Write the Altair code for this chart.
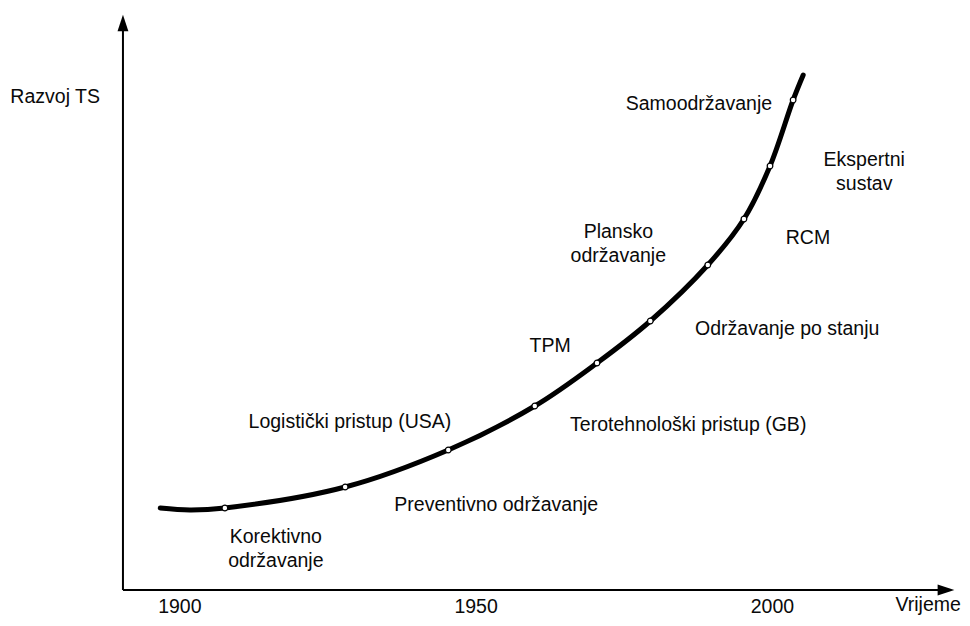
import altair as alt
import pandas as pd

# Curve of technical-system development over time (year, development level)
curve_year = [1896.7, 1901.7, 1907.6, 1927.9, 1945.3, 1959.9, 1970.4, 1979.4, 1989.1, 1995.2, 1999.6, 2003.5, 2005.2]
curve_val = [16.4, 16.0, 16.4, 20.6, 28.0, 36.8, 45.4, 53.8, 65.0, 74.2, 84.8, 98.0, 103.0]
marker_year = [1907.6, 1927.9, 1945.3, 1959.9, 1970.4, 1979.4, 1989.1, 1995.2, 1999.6, 2003.5]
marker_val = [16.4, 20.6, 28.0, 36.8, 45.4, 53.8, 65.0, 74.2, 84.8, 98.0]

# Annotation labels
labels = ["Samoodržavanje", "Ekspertni", "sustav", "Plansko", "održavanje", "RCM", "TPM",
          "Održavanje po stanju", "Logistički pristup (USA)", "Terotehnološki pristup (GB)",
          "Preventivno održavanje", "Korektivno", "održavanje"]
label_year = [1987.6, 2015.5, 2015.5, 1974.0, 1974.0, 2006.0, 1962.5, 2002.5, 1928.7, 1985.8, 1953.4, 1916.2, 1916.2]
label_val = [97.2, 86.0, 81.2, 71.6, 66.8, 70.4, 48.8, 52.2, 33.6, 33.0, 17.0, 10.6, 5.8]

tick_years = [1900, 1950, 2000]
tick_labels = ["1900", "1950", "2000"]

y_title = "Razvoj TS"
x_title = "Vrijeme"

FONT = "Liberation Sans"
FS = 19.5
TC = "#0a0a0a"

xs = alt.Scale(domain=[1871, 2032], nice=False, zero=False)
ys = alt.Scale(domain=[-5.6, 116.4], nice=False, zero=False)

def X(f="year"):
    return alt.X(f"{f}:Q", scale=xs, axis=None)

def Y(f="val"):
    return alt.Y(f"{f}:Q", scale=ys, axis=None)

curve_df = pd.DataFrame({"year": curve_year, "val": curve_val})
marker_df = pd.DataFrame({"year": marker_year, "val": marker_val})
label_df = pd.DataFrame({"label": labels, "year": label_year, "val": label_val})
tick_df = pd.DataFrame({"label": tick_labels, "year": tick_years, "val": [-3.4] * 3})

axis_x0 = 1890.4
axis_df_v = pd.DataFrame({"year": [axis_x0], "val": [0.0], "val2": [112.0]})
axis_df_h = pd.DataFrame({"year": [axis_x0], "year2": [2028.0], "val": [0.0]})

vline = alt.Chart(axis_df_v).mark_rule(color="black", strokeWidth=2).encode(
    x=X(), y=Y(), y2="val2:Q")
hline = alt.Chart(axis_df_h).mark_rule(color="black", strokeWidth=2).encode(
    x=X(), x2="year2:Q", y=Y())

arrow_up = alt.Chart(pd.DataFrame({"year": [axis_x0], "val": [113.4]})).mark_point(
    shape="M0,-1L0.65,1L-0.65,1Z", filled=True, color="black", opacity=1, size=280, strokeWidth=0
).encode(x=X(), y=Y())
arrow_right = alt.Chart(pd.DataFrame({"year": [2029.3], "val": [0.0]})).mark_point(
    shape="M1,0L-1,0.65L-1,-0.65Z", filled=True, color="black", opacity=1, size=280, strokeWidth=0
).encode(x=X(), y=Y())

line = alt.Chart(curve_df).mark_line(
    color="black", strokeWidth=5, interpolate="catmull-rom", strokeCap="round"
).encode(x=X(), y=Y())

markers = alt.Chart(marker_df).mark_point(
    shape="circle", filled=True, fill="white", stroke="black", strokeWidth=1.2, opacity=1, size=32
).encode(x=X(), y=Y())

texts = alt.Chart(label_df).mark_text(
    font=FONT, fontSize=FS, color=TC, align="center", baseline="middle"
).encode(x=X(), y=Y(), text="label:N")

ticks = alt.Chart(tick_df).mark_text(
    font=FONT, fontSize=FS, color=TC, align="center", baseline="middle"
).encode(x=X(), y=Y(), text="label:N")

ytitle = alt.Chart(pd.DataFrame({"label": [y_title], "year": [1871.4], "val": [98.6]})).mark_text(
    font=FONT, fontSize=FS, color=TC, align="left", baseline="middle"
).encode(x=X(), y=Y(), text="label:N")

xtitle = alt.Chart(pd.DataFrame({"label": [x_title], "year": [2031.8], "val": [-3.0]})).mark_text(
    font=FONT, fontSize=FS, color=TC, align="right", baseline="middle"
).encode(x=X(), y=Y(), text="label:N")

chart = alt.layer(
    vline, hline, arrow_up, arrow_right, line, markers, texts, ticks, ytitle, xtitle
).properties(
    width=954, height=610, padding=0, autosize=alt.AutoSizeParams(type="none"),
    background="white"
).configure_view(stroke=None)

chart.save("out.html", embed_options={"renderer": "svg", "actions": False})
